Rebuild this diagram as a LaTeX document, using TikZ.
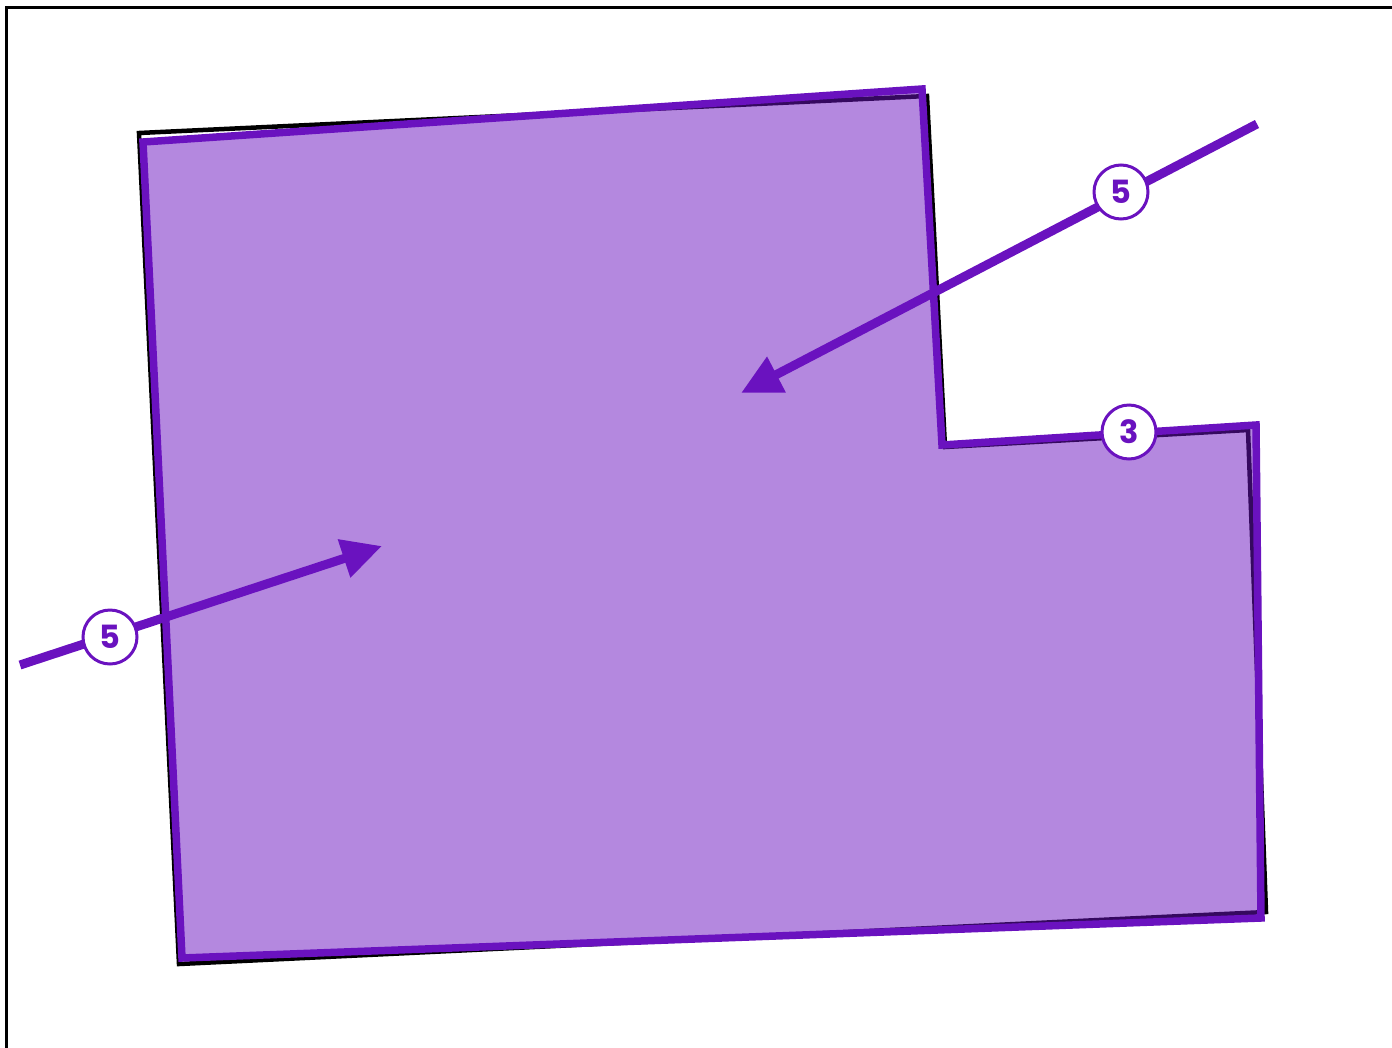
\documentclass[tikz,border=0pt]{standalone}
\usepackage{fontspec}
\setmainfont{Poppins}
\usetikzlibrary{arrows.meta}
\definecolor{pur}{HTML}{6A12BF}
\tikzset{
  badge/.style={circle, draw=pur, line width=3pt, fill=white, minimum size=54pt, inner sep=0pt,
    text=pur, font=\fontsize{32}{32}\selectfont\bfseries},
  flow/.style={draw=pur, line width=9pt, -{Triangle[length=40pt,width=38pt]}},
}
\begin{document}
\begin{tikzpicture}[x=1pt,y=-1pt]
\useasboundingbox (0,0) rectangle (1392,1047);
\clip (0,0) rectangle (1392,1047);
\draw[line width=2.5pt] (6.5,7.5) rectangle (1420,1080);
% black outline
\draw[line width=4.5pt, line join=miter] (139,133) -- (927,96) -- (945,447) -- (1248,430) -- (1266,912) -- (179,964) -- cycle;
% purple area
\draw[draw=pur, line width=7.5pt, fill=pur, fill opacity=0.5, line join=miter] (143,142) -- (922,89) -- (942,445) -- (1256,425) -- (1261,918) -- (182,958) -- cycle;
% arrows
\coordinate (s1) at (1257,124);
\coordinate (t1) at (741,393);
\coordinate (s2) at (20,665);
\coordinate (t2) at (382,546);
\draw[flow] (s1) -- (t1);
\draw[flow] (s2) -- (t2);
\node[badge] (b1) at (1121,192) {5};
\node[badge] (b2) at (110,637) {5};
\node[badge] (b3) at (1129,432) {3};
\end{tikzpicture}
\end{document}
